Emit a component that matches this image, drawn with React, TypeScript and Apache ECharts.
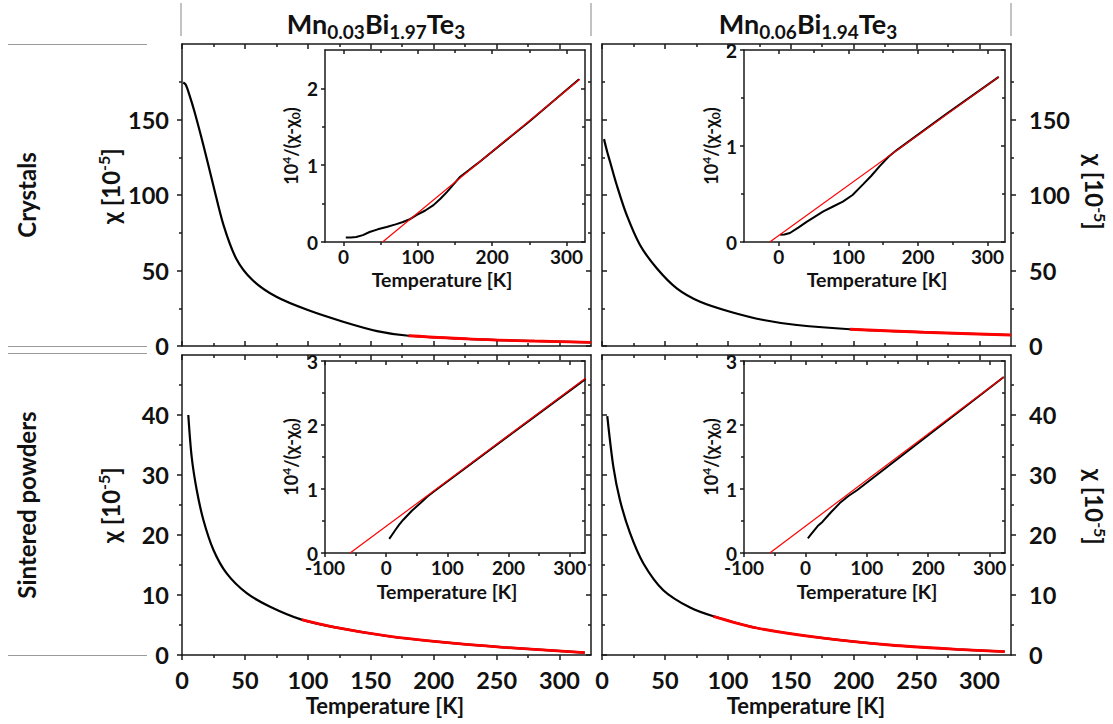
import React, { useEffect, useRef } from 'react';
import * as echarts from 'echarts';

const FONT = 'Lato, "DejaVu Sans", sans-serif';
const LINE = '#1a1a1a';

// ---------- data (T [K], value) ----------
const crystal003Chi = [[1, 174.5], [3, 173], [6, 166], [10, 155], [17, 133], [25, 106], [33, 80], [43, 58], [56, 43.7], [75, 32.6], [100, 23.8], [128, 16.1], [155, 9.9], [180, 6.8], [230, 4.6], [280, 3.3], [325, 2.4]];
const crystal003Fit = [[180, 6.8], [230, 4.6], [280, 3.3], [325, 2.4]];
const crystal006Chi = [[1.6, 137], [4, 129], [6.4, 122], [11.7, 106.6], [19.6, 86.8], [30.2, 66.9], [43.5, 51.5], [59.4, 38.2], [78, 29.3], [101.8, 22.7], [128.3, 17.2], [154.8, 13.9], [197, 11.1], [255.5, 9.1], [325, 7.3]];
const crystal006Fit = [[197, 11.1], [255.5, 9.1], [325, 7.3]];
const powder003Chi = [[5, 40], [7.7, 33], [11.7, 27.5], [17, 22.5], [25, 17.5], [35.5, 13.6], [51.4, 10.3], [70, 8.05], [95, 5.9], [123, 4.55], [162.7, 3.17], [202.5, 2.22], [255.4, 1.28], [320, 0.4]];
const powder003Fit = [[95, 5.9], [123, 4.55], [162.7, 3.17], [202.5, 2.22], [255.4, 1.28], [320, 0.4]];
const powder006Chi = [[4.2, 39.8], [9, 31.4], [14.3, 25.8], [22.3, 20.3], [32.8, 15.3], [48.7, 10.8], [70, 7.9], [88.5, 6.45], [123, 4.5], [176, 2.8], [229, 1.67], [282, 0.95], [320, 0.55]];
const powder006Fit = [[88.5, 6.45], [123, 4.5], [176, 2.8], [229, 1.67], [282, 0.95], [320, 0.55]];

// insets: 10^4/(chi - chi0)
const crystal003Inv = [[3, 0.057], [10, 0.058], [17, 0.065], [26, 0.09], [35, 0.13], [46, 0.165], [58, 0.195], [70, 0.23], [80, 0.26], [90, 0.3], [98, 0.35], [110, 0.41], [121, 0.48], [130, 0.56], [139, 0.65], [148, 0.75], [157, 0.85], [168, 0.93], [180, 1.02], [250, 1.57], [317, 2.12]];
const crystal003InvFit = [[52.5, 0], [318, 2.12]];
const crystal006Inv = [[2, 0.076], [8, 0.078], [16, 0.094], [28, 0.15], [40, 0.21], [52, 0.265], [64, 0.32], [78, 0.37], [92, 0.42], [106, 0.49], [121, 0.6], [133, 0.69], [145, 0.79], [158, 0.89], [170, 0.96], [240, 1.33], [316, 1.72]];
const crystal006InvFit = [[-13, 0], [316, 1.72]];
const powder003Inv = [[5, 0.22], [10, 0.29], [15, 0.36], [21, 0.44], [28, 0.52], [42, 0.66], [56, 0.78], [67, 0.88], [78, 0.96], [200, 1.83], [326, 2.72]];
const powder003InvFit = [[-59, 0], [326, 2.73]];
const powder006Inv = [[4, 0.23], [9, 0.29], [15, 0.36], [21, 0.43], [28, 0.49], [42, 0.64], [56, 0.78], [70, 0.89], [84, 0.98], [200, 1.84], [323, 2.75]];
const powder006InvFit = [[-58, 0], [323, 2.75]];

// ---------- tick labels ----------
const mainTempTicks = [0, 50, 100, 150, 200, 250, 300];
const mainTempMinor = [25, 75, 125, 175, 225, 275];
const crystalChiTicks = [0, 50, 100, 150];
const crystalChiMinor = [25, 75, 125, 175];
const powderChiTicks = [0, 10, 20, 30, 40];
const powderChiMinor = [5, 15, 25, 35, 45];
const insetTempTicksCrystal = [0, 100, 200, 300];
const insetTempTicksPowder = [-100, 0, 100, 200, 300];
const insetTempMinor = [-50, 50, 150, 250];
const insetInvTicksCrystal = [0, 1, 2];
const insetInvTicksPowder = [0, 1, 2, 3];
const insetInvMinor = [0.5, 1.5, 2.5];

const columnTitles = [
  ['Mn', '0.03', 'Bi', '1.97', 'Te', '3'],
  ['Mn', '0.06', 'Bi', '1.94', 'Te', '3'],
];
const rowTitles = ['Crystals', 'Sintered powders'];

function buildOption() {
  const grids = [
    { left: 182, top: 44, width: 409, height: 302 },
    { left: 602, top: 44, width: 409, height: 302 },
    { left: 182, top: 355, width: 409, height: 300 },
    { left: 602, top: 355, width: 409, height: 300 },
    { left: 325, top: 50, width: 260, height: 192 },
    { left: 744, top: 50, width: 261, height: 192 },
    { left: 325, top: 361, width: 260, height: 192 },
    { left: 744, top: 361, width: 261, height: 192 },
  ].map((g) => ({ ...g, containLabel: false, outerBoundsMode: 'none' }));

  const xAxes: any[] = [];
  const yAxes: any[] = [];

  function push(list: any[], grid: number, pos: string, min: number, max: number, majors: number[], minors: number[], o: any) {
    const idx = list.length;
    const ls = { color: LINE, width: o.lw };
    list.push({
      type: 'value', gridIndex: grid, position: pos, min, max,
      axisLine: { show: true, onZero: false, lineStyle: ls },
      axisTick: { show: true, inside: o.inside, length: o.len, customValues: majors, lineStyle: ls },
      axisLabel: o.label
        ? { show: true, customValues: majors, fontSize: o.fs, fontWeight: 'bold', fontFamily: FONT, color: '#111', margin: o.margin }
        : { show: false },
      splitLine: { show: false },
    });
    const mins = minors.filter((v) => v > min && v < max);
    if (mins.length) {
      list.push({
        type: 'value', gridIndex: grid, position: pos, min, max,
        axisLine: { show: false, onZero: false },
        axisTick: { show: true, inside: o.inside, length: o.mlen, customValues: mins, lineStyle: ls },
        axisLabel: { show: false },
        splitLine: { show: false },
      });
    }
    return idx;
  }

  const series: any[] = [];
  function addLine(xi: number, yi: number, data: number[][], color: string, width: number, smooth: number | false) {
    series.push({
      type: 'line', xAxisIndex: xi, yAxisIndex: yi, data, showSymbol: false, symbol: 'none',
      smooth,
      lineStyle: { color, width }, itemStyle: { color }, silent: true, z: color === '#000' ? 2 : 3,
    });
  }

  // main panels
  const mains = [
    { g: 0, top: true, right: false, chi: crystal003Chi, fit: crystal003Fit },
    { g: 1, top: true, right: true, chi: crystal006Chi, fit: crystal006Fit },
    { g: 2, top: false, right: false, chi: powder003Chi, fit: powder003Fit },
    { g: 3, top: false, right: true, chi: powder006Chi, fit: powder006Fit },
  ];
  for (const m of mains) {
    const ymax = m.top ? 200 : 50;
    const yt = m.top ? crystalChiTicks : powderChiTicks;
    const ym = m.top ? crystalChiMinor : powderChiMinor;
    const base = { lw: 1.5, len: 5, mlen: 3, fs: 23.5 };
    const xi = push(xAxes, m.g, 'bottom', 0, 325, mainTempTicks, mainTempMinor, { ...base, inside: m.top, label: !m.top, margin: 13 });
    push(xAxes, m.g, 'top', 0, 325, mainTempTicks, mainTempMinor, { ...base, inside: true, label: false });
    let yi;
    if (!m.right) {
      yi = push(yAxes, m.g, 'left', 0, ymax, yt, ym, { ...base, inside: false, label: true, margin: 13 });
      push(yAxes, m.g, 'right', 0, ymax, yt, ym, { ...base, inside: true, label: false });
    } else {
      yi = push(yAxes, m.g, 'right', 0, ymax, yt, ym, { ...base, inside: false, label: true, margin: 18 });
      push(yAxes, m.g, 'left', 0, ymax, yt, ym, { ...base, inside: true, label: false });
    }
    addLine(xi, yi, m.chi, '#000', 2.2, 0.3);
    addLine(xi, yi, m.fit, '#ff0000', 2.8, 0.3);
  }

  // insets
  const insets = [
    { g: 4, xmin: -25, ymax: 2.5, xt: insetTempTicksCrystal, yt: insetInvTicksCrystal, d: crystal003Inv, f: crystal003InvFit },
    { g: 5, xmin: -50, ymax: 2, xt: insetTempTicksCrystal, yt: insetInvTicksCrystal, d: crystal006Inv, f: crystal006InvFit },
    { g: 6, xmin: -100, ymax: 3, xt: insetTempTicksPowder, yt: insetInvTicksPowder, d: powder003Inv, f: powder003InvFit },
    { g: 7, xmin: -100, ymax: 3, xt: insetTempTicksPowder, yt: insetInvTicksPowder, d: powder006Inv, f: powder006InvFit },
  ];
  for (const s of insets) {
    const base = { lw: 1.5, len: 4, mlen: 3, fs: 19 };
    const xi = push(xAxes, s.g, 'bottom', s.xmin, 325, s.xt, insetTempMinor, { ...base, inside: false, label: true, margin: 5 });
    push(xAxes, s.g, 'top', s.xmin, 325, s.xt, insetTempMinor, { ...base, inside: true, label: false });
    const yi = push(yAxes, s.g, 'left', 0, s.ymax, s.yt, insetInvMinor, { ...base, inside: false, label: true, margin: 7 });
    push(yAxes, s.g, 'right', 0, s.ymax, s.yt, insetInvMinor, { ...base, inside: true, label: false });
    addLine(xi, yi, s.d, '#000', 2, false);
    addLine(xi, yi, s.f, '#ff0000', 1.2, false);
  }

  // ---------- graphics ----------
  const graphic: any[] = [];
  const gray = { stroke: '#9a9a9a', lineWidth: 1.2 };
  for (const x of [181, 591, 1011]) graphic.push({ type: 'line', shape: { x1: x, y1: 3, x2: x, y2: 36 }, style: gray, silent: true });
  for (const y of [44.5, 346.5, 353.5, 655.5]) graphic.push({ type: 'line', shape: { x1: 8, y1: y, x2: 147, y2: y }, style: gray, silent: true });

  const bold = { fontFamily: FONT, fontWeight: 'bold', fill: '#111' };
  const titleRich = {
    m: { ...bold, fontSize: 27, lineHeight: 30 },
    s: { ...bold, fontSize: 19, lineHeight: 30, padding: [16, 0, 0, 0] },
  };
  columnTitles.forEach((parts, i) => {
    const text = parts.map((p, k) => (k % 2 === 0 ? `{m|${p}}` : `{s|${p}}`)).join('');
    graphic.push({ type: 'text', x: i === 0 ? 376 : 808, y: 23, style: { text, rich: titleRich, align: 'center', verticalAlign: 'middle' }, silent: true });
  });
  rowTitles.forEach((t, i) => {
    graphic.push({ type: 'text', x: 26, y: i === 0 ? 195 : 505, rotation: Math.PI / 2, style: { ...bold, text: t, fontSize: 24, align: 'center', verticalAlign: 'middle' }, silent: true });
  });

  const chiRich = {
    a: { ...bold, fontSize: 24, lineHeight: 28 },
    p: { ...bold, fontSize: 16, lineHeight: 28, padding: [0, 0, 13, 0] },
  };
  const chiText = '{a|χ [10}{p|-5}{a|]}';
  for (const [x, y, rot] of [[110, 186, Math.PI / 2], [110, 505, Math.PI / 2], [1094, 192, -Math.PI / 2], [1094, 507, -Math.PI / 2]]) {
    graphic.push({ type: 'text', x, y, rotation: rot, style: { text: chiText, rich: chiRich, align: 'center', verticalAlign: 'middle' }, silent: true });
  }

  const tempStyle = (fs: number) => ({ ...bold, text: 'Temperature [K]', fontSize: fs, align: 'center', verticalAlign: 'middle' });
  graphic.push({ type: 'text', x: 385, y: 705, style: tempStyle(22), silent: true });
  graphic.push({ type: 'text', x: 806, y: 705, style: tempStyle(22), silent: true });
  for (const [x, y] of [[442, 279], [877, 279], [447, 591], [867, 591]]) {
    graphic.push({ type: 'text', x, y, style: tempStyle(19.5), silent: true });
  }

  const invRich = {
    a: { ...bold, fontSize: 18, lineHeight: 22 },
    p: { ...bold, fontSize: 12, lineHeight: 22, padding: [0, 0, 10, 0] },
    b: { ...bold, fontSize: 12, lineHeight: 22, padding: [8, 0, 0, 0] },
  };
  const invText = '{a|10}{p|4}{a|/(χ-χ}{b|0}{a|)}';
  for (const [x, y] of [[291, 146], [711, 146], [291, 457], [711, 457]]) {
    graphic.push({ type: 'text', x, y, rotation: Math.PI / 2, style: { text: invText, rich: invRich, align: 'center', verticalAlign: 'middle' }, silent: true });
  }

  return {
    animation: false,
    backgroundColor: '#fff',
    grid: grids,
    xAxis: xAxes,
    yAxis: yAxes,
    series,
    graphic,
  };
}

export default function App() {
  const ref = useRef<HTMLDivElement>(null);
  useEffect(() => {
    const chart = echarts.init(ref.current!, null, { renderer: 'svg' });
    chart.setOption(buildOption() as any);
    return () => chart.dispose();
  }, []);
  return <div ref={ref} style={{ position: 'fixed', left: 0, top: 0, width: 1113, height: 724, background: '#fff' }} />;
}
